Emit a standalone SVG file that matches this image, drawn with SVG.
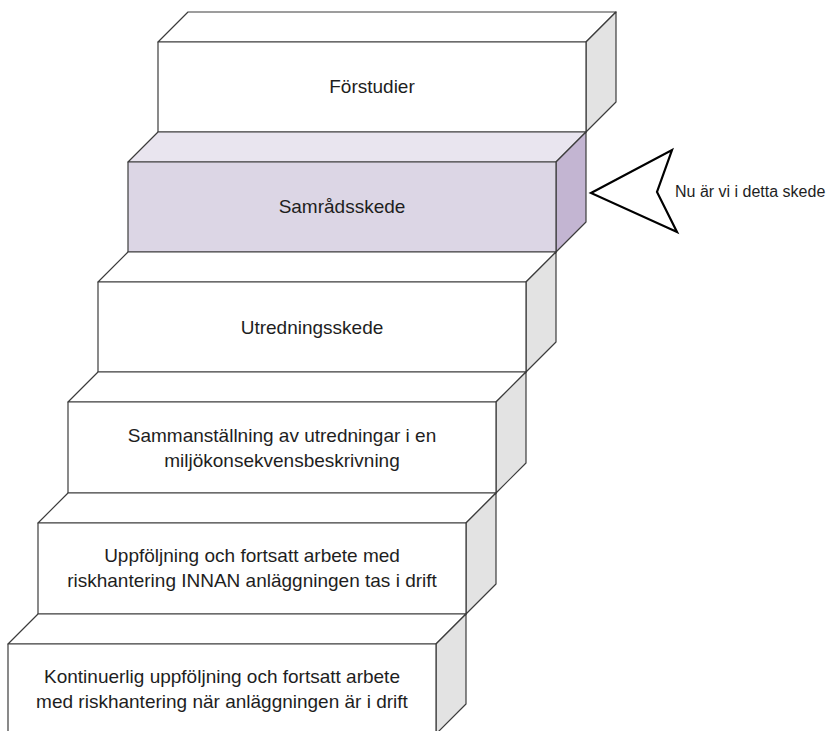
<svg xmlns="http://www.w3.org/2000/svg" width="831" height="731" viewBox="0 0 831 731">
<style>
  .edge{stroke:#3c3c3c;stroke-width:1.2;stroke-linejoin:round}
  .front{fill:#ffffff}
  .top{fill:#ffffff}
  .side{fill:#e3e3e3}
  .pfront{fill:#dcd6e5}
  .ptop{fill:#e9e5ef}
  .pside{fill:#c3b5d2}
  .lbl{font-family:"Liberation Sans",Arial,sans-serif;font-size:19px;fill:#1e1e1e;text-anchor:middle}
  .note{font-family:"Liberation Sans",Arial,sans-serif;font-size:16px;fill:#1e1e1e}
</style>
<rect width="831" height="731" fill="#ffffff"/>

<g id="step-forstudier">
  <polygon class="top edge" points="158,42 188,12 616,12 586,42"/>
  <polygon class="side edge" points="586,42 616,12 616,102 586,132"/>
  <rect class="front edge" x="158" y="42" width="428" height="90"/>
  <text class="lbl" x="372" y="93">Förstudier</text>
</g>

<g id="step-samradsskede">
  <polygon class="ptop edge" points="128,162 158,132 586,132 556,162"/>
  <polygon class="pside edge" points="556,162 586,132 586,222 556,252"/>
  <rect class="pfront edge" x="128" y="162" width="428" height="90"/>
  <text class="lbl" x="342" y="213">Samrådsskede</text>
</g>

<g id="step-utredningsskede">
  <polygon class="top edge" points="98,282 128,252 556,252 526,282"/>
  <polygon class="side edge" points="526,282 556,252 556,342 526,372"/>
  <rect class="front edge" x="98" y="282" width="428" height="90"/>
  <text class="lbl" x="312" y="334">Utredningsskede</text>
</g>

<g id="step-sammanstallning">
  <polygon class="top edge" points="68,402 98,372 526,372 496,402"/>
  <polygon class="side edge" points="496,402 526,372 526,463 496,493"/>
  <rect class="front edge" x="68" y="402" width="428" height="91"/>
  <text class="lbl" x="282" y="442">Sammanställning av utredningar i en</text>
  <text class="lbl" x="282" y="467">miljökonsekvensbeskrivning</text>
</g>

<g id="step-uppfoljning-innan">
  <polygon class="top edge" points="38,523 68,493 496,493 466,523"/>
  <polygon class="side edge" points="466,523 496,493 496,584 466,614"/>
  <rect class="front edge" x="38" y="523" width="428" height="91"/>
  <text class="lbl" x="252" y="562">Uppföljning och fortsatt arbete med</text>
  <text class="lbl" x="252" y="587">riskhantering INNAN anläggningen tas i drift</text>
</g>

<g id="step-kontinuerlig">
  <polygon class="top edge" points="8,644 38,614 466,614 436,644"/>
  <polygon class="side edge" points="436,644 466,614 466,704 436,734"/>
  <rect class="front edge" x="8" y="644" width="428" height="90"/>
  <text class="lbl" x="222" y="683">Kontinuerlig uppföljning och fortsatt arbete</text>
  <text class="lbl" x="222" y="708">med riskhantering när anläggningen är i drift</text>
</g>

<g id="pointer">
  <polygon points="591,193 672,150 657,192 677,232" fill="#ffffff" stroke="#000000" stroke-width="2.2" stroke-linejoin="miter"/>
  <text class="note" x="675" y="197">Nu är vi i detta skede</text>
</g>
</svg>
